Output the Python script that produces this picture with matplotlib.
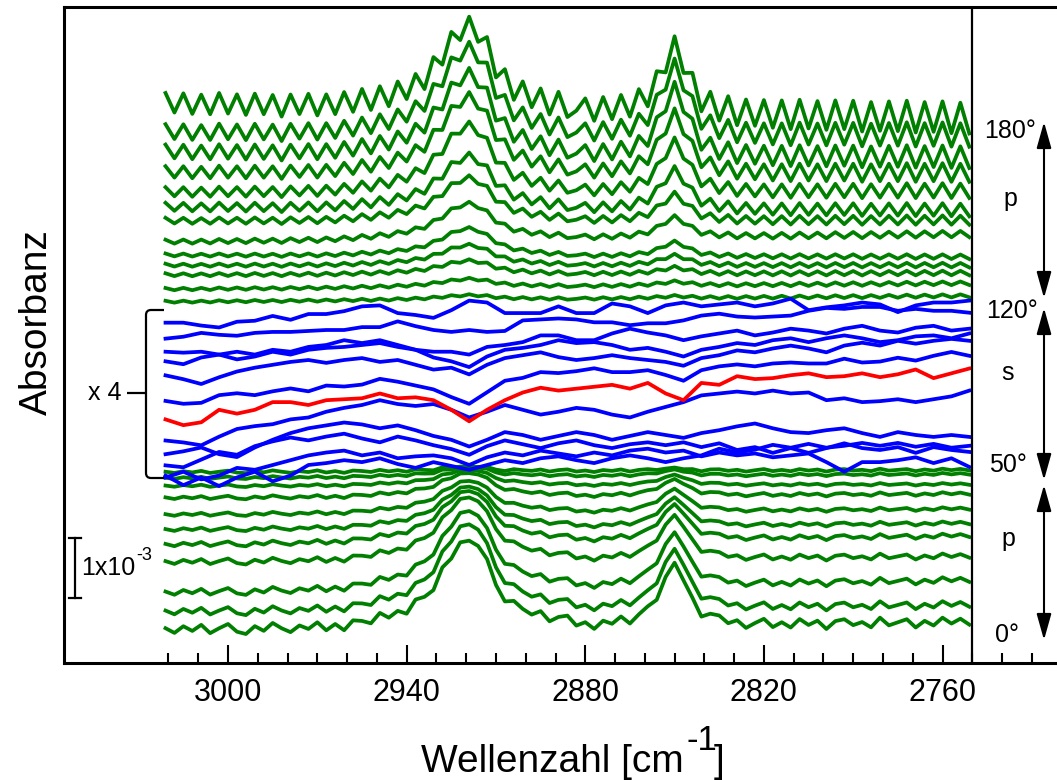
import numpy as np
import matplotlib.pyplot as plt
import matplotlib.transforms as mtransforms
from matplotlib.path import Path
from matplotlib.patches import PathPatch, FancyArrowPatch

plt.rcParams['font.family'] = ['Liberation Sans', 'DejaVu Sans']

# Wellenzahl-Raster (cm^-1)
wn_p = np.arange(3021, 2750, -3)   # p-Spektren, 91 Punkte
wn_s = np.arange(3021, 2750, -6)   # s-Spektren, 46 Punkte

# Bandenprofile (normiert) auf wn_p
profil_2920 = [0] * 14 + [0.01] * 4 + [0.02, 0.03, 0.04, 0.05, 0.07, 0.09, 0.12, 0.14, 0.17, 0.22, 0.28, 0.36,
                                      0.48, 0.64, 0.82, 0.96, 1.0, 0.93, 0.74, 0.52, 0.36, 0.26, 0.2, 0.16,
                                      0.13, 0.1, 0.08, 0.06, 0.04, 0.03, 0.02, 0.01] + [0] * 41
profil_2850 = [0] * 49 + [0.02, 0.04, 0.07, 0.1, 0.15, 0.25, 0.45, 0.8, 1.0, 0.78, 0.42, 0.22, 0.13, 0.08,
                          0.05, 0.03, 0.02, 0.01] + [0] * 24

# Interferenzstreifen (relativ)
fringe_a = [1.0, -0.9, 1.0, -1.0, 0.9, -1.0, 1.1, -0.9, 1.0, -1.0, 1.1, -0.9, 1.0, -1.1, 1.0, -0.9, 1.1, -1.0,
            1.0, -1.0, 1.1, -0.9, 1.2, -1.0, 1.1, -1.0, 1.2, -0.9, 1.1, -1.0,
            1.2, -0.8, 1.0, -0.9, 1.1, -0.8, 1.2, -1.0, 1.1, -1.1, 1.2, -1.0, 1.1, -1.2, 1.2, -1.1, -0.3, 1.0,
            -1.1, 1.2, -1.0, 1.2, -1.1, 1.3, -1.0, 1.2, -1.1, 1.2, -1.0, 1.3,
            -1.2, 1.3, -1.2, 1.4, -1.3, 1.3, -1.2, 1.4, -1.3, 1.4, -1.4, 1.5, -1.3, 1.4, -1.4, 1.5, -1.3, 1.5,
            -1.5, 1.4, -1.4, 1.5, -1.4, 1.6, -1.5, 1.5, -1.4, 1.6, -1.5, 1.5, -1.5]
fringe_b = [0.3, -0.5, 0.6, -0.2, 0.8, -0.6, 0.2, 0.9, -0.4, -0.8, 0.5, -0.3, 1.0, 0.1, -0.7, 0.4, -0.2, 0.9,
            -0.6, 0.3, -0.9, 0.6, 0.2, -0.5, 0.8, -0.3, 0.4, -0.8, 0.7, 0.0,
            -0.6, 0.9, -0.2, 0.5, 0.2, 0.3, 0.8, -0.4, -0.9, 0.6, 0.1, -0.3, 0.7, -0.6, 0.4, 0.9, -0.5, 0.2,
            -0.8, 0.5, -0.1, 0.8, -0.7, 0.3, 0.6, -0.4, -0.2, 0.1, -0.6, 0.2,
            -0.9, 0.5, 0.7, -0.3, 0.4, -0.8, 0.1, 0.9, -0.5, 0.3, -0.6, 0.8, -0.2, 0.5, -0.9, 0.4, 0.7, -0.3,
            0.2, -0.7, 0.9, -0.4, 0.1, 0.6, -0.8, 0.3, -0.5, 0.8, -0.2, 0.6, -0.4]

# p-Polarisation 180..120 Grad (Versatz in mAbs)
winkel_oben = [180, 175, 170, 165, 160, 155, 150, 145, 140, 135, 130, 125, 120]
basis_oben_links = [9.33, 8.85, 8.52, 8.18, 7.85, 7.60, 7.37, 7.02, 6.80, 6.63, 6.47, 6.23, 6.02]
basis_oben_rechts = [9.08, 8.80, 8.43, 8.17, 7.87, 7.55, 7.38, 7.15, 6.77, 6.63, 6.50, 6.33, 6.12]
band1_oben = [1.35, 1.38, 1.30, 1.23, 1.08, 0.85, 0.70, 0.58, 0.45, 0.33, 0.22, 0.13, 0.07]
band2_oben = [1.07, 1.10, 1.08, 0.95, 0.80, 0.63, 0.42, 0.32, 0.23, 0.16, 0.10, 0.06, 0.03]
streifen_oben = [0.17, 0.13, 0.12, 0.10, 0.08, 0.07, 0.05, 0.035, 0.025, 0.025, 0.025, 0.02, 0.017]

# p-Polarisation 0..50 Grad
winkel_unten = [0, 5, 10, 15, 20, 25, 30, 35, 40, 45, 50]
basis_unten_links = [0.55, 0.85, 1.17, 1.68, 1.97, 2.22, 2.47, 2.75, 2.95, 3.08, 3.18]
basis_unten_rechts = [0.68, 0.97, 1.38, 1.78, 2.12, 2.33, 2.57, 2.82, 2.98, 3.15, 3.22]
band1_unten = [1.42, 1.40, 1.27, 1.03, 0.83, 0.67, 0.52, 0.38, 0.25, 0.15, 0.07]
band2_unten = [1.03, 0.97, 0.87, 0.72, 0.58, 0.47, 0.37, 0.27, 0.17, 0.10, 0.05]
streifen_unten = [0.10, 0.08, 0.07, 0.06, 0.05, 0.04, 0.035, 0.035, 0.025, 0.025, 0.025]

# s-Polarisation (Rohdaten in uAbs, dargestellt x 4)
faktor_s = 4
s_versatz = [5.88, 5.63, 5.38, 5.22, 5.05, 4.72, 4.22, 3.72, 3.55, 3.38, 3.30]
s_spektren = [
    [-52, -52, -64, -72, -48, -44, -24, -40, -16, -16, -4, 16, 20, -12, -20, -32, 0, 40, 32, -12, -12, -12, 16,
     -12, -12, 28, 16, -12, 20, 32, 16, 24, 32, 16, 28, 48, 0, 12, 20, 32, 24, -8, 20, 32, 32, 40],
    [-56, -48, -32, -40, -44, -32, -28, -28, -24, -20, -20, -8, -8, 16, -4, -20, -28, -20, -28, -24, 20, 24, 28,
     24, 12, 12, 0, 8, 8, 20, 40, 48, 36, 32, 36, 40, 60, 72, 68, 76, 76, 60, 68, 60, 60, 52],
    [-48, -52, -48, -60, -48, -60, -40, -48, -28, -20, 0, -12, 0, -20, -40, -48, -48, -60, -28, -20, -8, 20, 20,
     0, 0, 28, 48, 32, 20, 0, 16, 28, 40, 20, 32, 48, 40, 28, 48, 60, 40, 32, 52, 60, 40, 48],
    [-48, -60, -32, -20, -40, -28, -8, -20, 0, 8, 12, 20, 28, 12, 0, -32, -48, -72, -28, 0, 8, 20, 40, 28, 32,
     20, 0, 8, -8, -28, 0, 12, 28, 20, 40, 48, 32, 48, 60, 48, 32, 40, 56, 60, 48, 68],
    [-64, -80, -100, -72, -48, -32, -20, -8, 0, -12, 0, 8, -8, 0, -20, -40, -32, -60, -20, 8, 20, 32, 12, 0, 8,
     20, 8, 0, -8, -24, 8, 20, 40, 32, 48, 60, 48, 32, 60, 72, 60, 80, 68, 80, 88, 80],
    [-88, -100, -96, -64, -56, -64, -48, -36, -48, -24, -28, -20, 4, -8, -24, -40, -72, -100, -52, -4, 8, 32, 28,
     36, 48, 32, 32, 40, 20, -4, 40, 56, 64, 56, 68, 72, 68, 68, 88, 72, 76, 92, 80, 100, 116, 100],
    [-128, -136, -148, -112, -80, -68, -60, -40, -32, -8, 8, 20, 40, 24, 16, 24, 0, -32, -8, 20, 0, -20, -8, 8,
     0, -20, -32, -8, 12, 32, 60, 68, 76, 68, 80, 68, 72, 40, 48, 32, 36, 44, 32, 44, 56, 80],
    [-60, -48, -32, -60, -72, -32, 0, 28, 48, 60, 72, 64, 48, 60, 40, 16, 0, -28, 0, 32, 20, 0, 16, 32, 20, 0,
     16, 32, 20, 8, 28, 40, 56, 68, 48, 32, 28, 40, 48, 28, 12, 32, 20, 12, 20, 12],
    [-64, -72, -40, -8, -20, 16, 36, 52, 40, 56, 68, 48, 32, 56, 40, 20, 4, -20, 16, 40, 24, 8, 28, 40, 20, 8,
     24, 32, 20, 32, 12, 28, 0, 12, -12, 8, -12, 8, 28, 8, 0, 12, -12, 12, 0, -8],
    [-72, -48, -80, -64, -32, -40, -20, 0, 20, 32, 40, 20, 32, 8, 16, 20, 8, -20, 12, 32, 20, 40, 28, 16, 32,
     20, 40, 48, 32, 40, 16, 32, 20, 28, 12, 20, 28, -8, -48, -8, -8, 0, 12, -12, 8, -28],
    [-44, -84, -52, -88, -52, -28, -68, -44, 0, 8, 20, 12, 28, 4, -12, 12, -4, -20, 0, 20, 8, 28, 36, 20, 8, 28,
     40, 28, 12, 28, 40, 68, 52, 64, 84, 72, 88, 72, 80, 92, 80, 92, 76, 88, 72, 80],
]
rot_versatz = 4.38
rot_spektrum = [-80, -104, -92, -40, -56, -40, -8, -8, -20, 0, 4, 8, 28, 8, 12, 0, -40, -88, -40, 0, 32, 52, 40,
                48, 56, 64, 48, 72, 28, 0, 72, 64, 100, 88, 92, 104, 112, 96, 100, 112, 96, 108, 128, 92, 112, 132]

# Massstab 1x10^-3
skala_start = 1.08
skala_laenge = 1.0

gruen = '#007F00'
lw_spektrum = 2.7
W, H = 1057, 780
fig = plt.figure(figsize=(W / 100, H / 100), dpi=100)
ax = fig.add_axes([64 / W, 117 / H, 1036 / W, 656 / H])

p1 = np.array(profil_2920)
p2 = np.array(profil_2850)
fa = np.array(fringe_a)
fb = np.array(fringe_b)

for i in range(len(winkel_oben)):
    basis = np.linspace(basis_oben_links[i], basis_oben_rechts[i], len(wn_p))
    y = basis + band1_oben[i] * p1 + band2_oben[i] * p2 + streifen_oben[i] * fa
    ax.plot(wn_p, y, color=gruen, lw=lw_spektrum, solid_joinstyle='round', zorder=2)

for i in range(len(winkel_unten)):
    basis = np.linspace(basis_unten_links[i], basis_unten_rechts[i], len(wn_p))
    y = basis + band1_unten[i] * p1 + band2_unten[i] * p2 + streifen_unten[i] * fb
    ax.plot(wn_p, y, color=gruen, lw=lw_spektrum, solid_joinstyle='round', zorder=2)

for versatz, sp in zip(s_versatz, s_spektren):
    ax.plot(wn_s, versatz + faktor_s * np.array(sp) / 1000, color='#0000FF', lw=lw_spektrum, zorder=3)
ax.plot(wn_s, rot_versatz + faktor_s * np.array(rot_spektrum) / 1000, color='#FF0000', lw=lw_spektrum, zorder=4)

ax.axvline(2750, color='k', lw=1.6, zorder=5)

ax.set_xlim(3055.1, 2707.1)
ax.set_ylim(0, 656 / 60)
ax.set_xticks([3000, 2940, 2880, 2820, 2760])
ax.set_xticks(np.arange(3020, 2725, -10), minor=True)
ax.set_yticks([])
ax.tick_params(axis='x', which='major', direction='in', length=13, width=1.5, labelsize=22, pad=11)
ax.tick_params(axis='x', which='minor', direction='in', length=7, width=1.5)
for s in ['top', 'bottom', 'left']:
    ax.spines[s].set_linewidth(2.2)
ax.spines['right'].set_visible(False)

# Achsenbeschriftungen
fig.text(421 / W, 1 - 772 / H, 'Wellenzahl [cm', fontsize=28, ha='left', va='baseline')
fig.text(686 / W, 1 - 750 / H, '-1', fontsize=25, ha='left', va='baseline')
fig.text(714 / W, 1 - 772 / H, ']', fontsize=28, ha='left', va='baseline')
fig.text(36.5 / W, 1 - 322 / H, 'Absorbanz', fontsize=28, rotation=90, ha='center', va='center')

# Massstab
trans_bar = mtransforms.blended_transform_factory(fig.transFigure, ax.transData)
ax.plot([75 / W, 75 / W], [skala_start, skala_start + skala_laenge], transform=trans_bar,
        color='k', lw=1.6, clip_on=False)
for yb in [skala_start, skala_start + skala_laenge]:
    ax.plot([69 / W, 81 / W], [yb, yb], transform=trans_bar, color='k', lw=1.6, clip_on=False)
fig.text(81 / W, 1 - 575 / H, '1x10', fontsize=18, ha='left', va='baseline')
fig.text(136 / W, 1 - 560 / H, '-3', fontsize=13, ha='left', va='baseline')

# Klammer x 4
def fp(x, y):
    return (x / W, 1 - y / H)

verts = [fp(164, 310), fp(151, 310), fp(146, 310), fp(146, 315), fp(146, 473), fp(146, 478), fp(151, 478),
         fp(164, 478), fp(127, 393), fp(146, 393)]
codes = [Path.MOVETO, Path.LINETO, Path.CURVE3, Path.CURVE3, Path.LINETO, Path.CURVE3, Path.CURVE3,
         Path.LINETO, Path.MOVETO, Path.LINETO]
fig.add_artist(PathPatch(Path(verts, codes), fill=False, lw=1.6, color='k', transform=fig.transFigure))
fig.text(121 / W, 1 - 393 / H, 'x 4', fontsize=18, ha='right', va='center')

# Winkelbereiche rechts
labels = [('180°', 1010, 138), ('p', 1010, 206), ('120°', 1012, 318), ('s', 1008, 380),
          ('50°', 1008, 472), ('p', 1008, 546), ('0°', 1007, 642)]
for txt, lx, ly in labels:
    fig.text(lx / W, 1 - ly / H, txt, fontsize=18, ha='center', va='baseline')

for ya, yb in [(122, 298), (308, 480), (485, 640)]:
    pfeil = FancyArrowPatch(fp(1044, ya), fp(1044, yb), transform=fig.transFigure,
                            arrowstyle='<|-|>,head_length=1.6,head_width=0.45', mutation_scale=10,
                            lw=1.5, color='k', shrinkA=0, shrinkB=0)
    fig.add_artist(pfeil)

fig.savefig('out.png', dpi=100)
